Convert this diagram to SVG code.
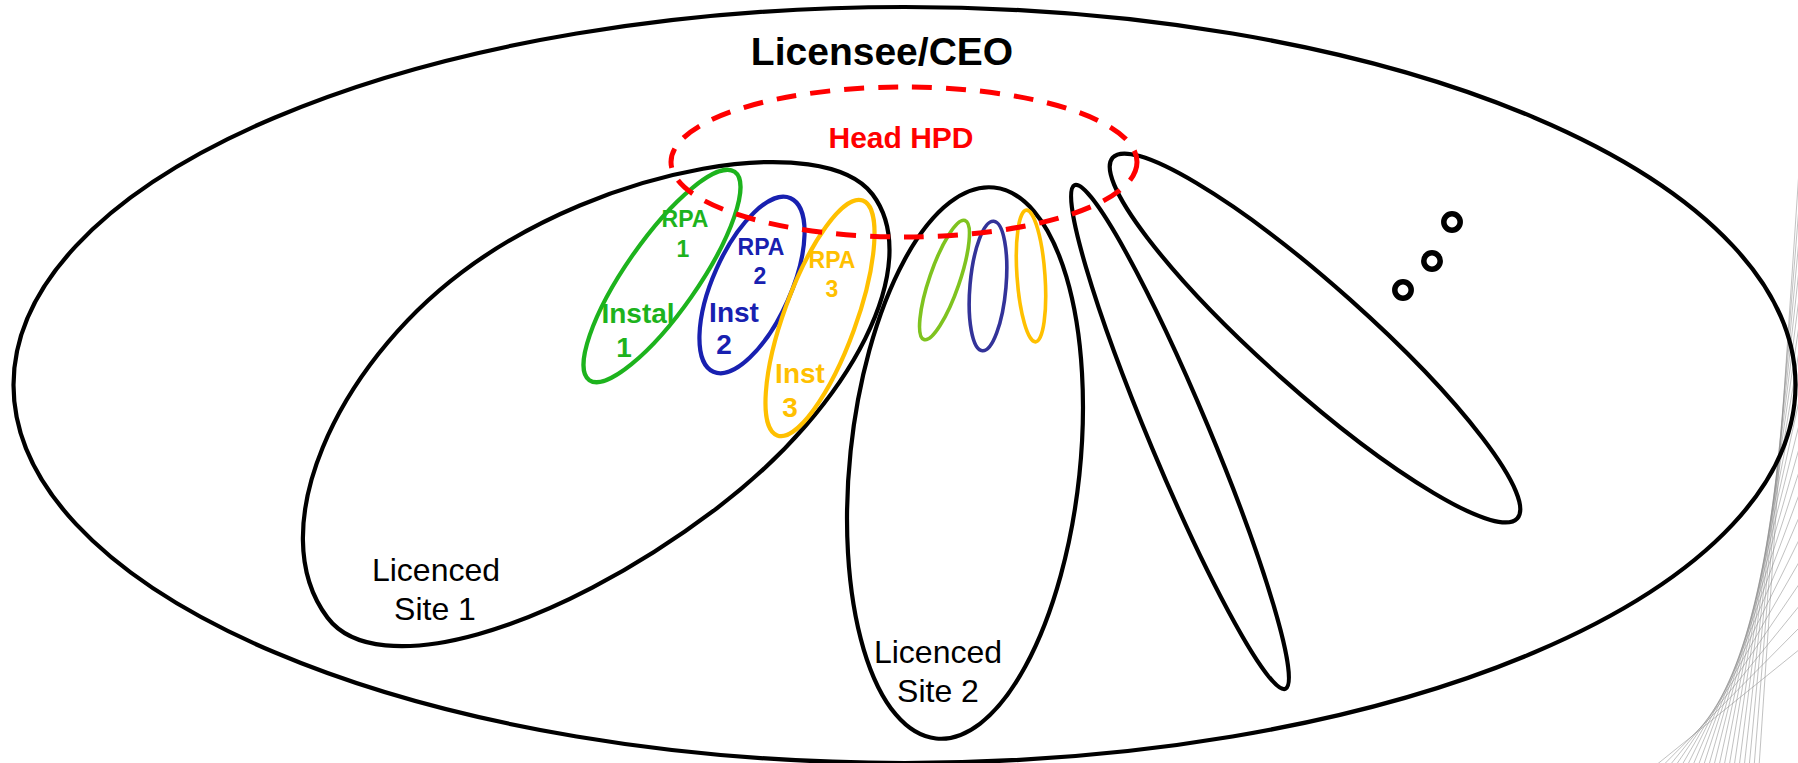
<svg xmlns="http://www.w3.org/2000/svg" width="1798" height="763" viewBox="0 0 1798 763">
<style>
.k{fill:none;stroke:#000;stroke-width:4.2}
.c{fill:none;stroke-width:4.2}
.s{fill:none;stroke-width:3.6}
.t{font-family:"Liberation Sans",Arial,Helvetica,sans-serif;text-anchor:middle}
.b{font-weight:bold}
.fan line{stroke:#8a8a8a;stroke-width:0.7;opacity:0.75}
</style>
<rect width="1798" height="763" fill="#fff"/>
<g class="fan">
<line x1="1650" y1="770" x2="1800" y2="649"/>
<line x1="1658.5" y1="770" x2="1800" y2="627"/>
<line x1="1666" y1="770" x2="1800" y2="605"/>
<line x1="1672.7" y1="770" x2="1800" y2="582.8"/>
<line x1="1679.1" y1="770" x2="1800" y2="560.4"/>
<line x1="1685.1" y1="770" x2="1800" y2="537.9"/>
<line x1="1690.9" y1="770" x2="1800" y2="515.1"/>
<line x1="1696.6" y1="770" x2="1800" y2="492.1"/>
<line x1="1702.1" y1="770" x2="1800" y2="468.8"/>
<line x1="1707.5" y1="770" x2="1800" y2="445.2"/>
<line x1="1712.8" y1="770" x2="1800" y2="421.1"/>
<line x1="1718.1" y1="770" x2="1800" y2="396.5"/>
<line x1="1723.3" y1="770" x2="1800" y2="371.4"/>
<line x1="1728.5" y1="770" x2="1800" y2="345.4"/>
<line x1="1733.6" y1="770" x2="1800" y2="318.6"/>
<line x1="1738.7" y1="770" x2="1800" y2="290.5"/>
<line x1="1743.8" y1="770" x2="1800" y2="260.9"/>
<line x1="1748.8" y1="770" x2="1800" y2="229.2"/>
<line x1="1753.8" y1="770" x2="1800" y2="194.5"/>
<line x1="1758.8" y1="770" x2="1800" y2="155.7"/>
</g>
<g id="licensee">
<ellipse class="k" cx="904.5" cy="385" rx="891" ry="378"/>
<text class="t b" x="882" y="65" font-size="39">Licensee/CEO</text>
</g>
<g id="site1">
<path class="k" transform="translate(597 402) rotate(-37)" d="M345 0C345 -80 150 -185 -30 -185C-187 -185 -345 -100 -345 10C-345 91 -176 157 30 157C203 157 345 86 345 0Z"/>
<text class="t" x="436" y="581" font-size="32">Licenced</text>
<text class="t" x="435" y="620" font-size="32">Site 1</text>
</g>
<g id="site2">
<ellipse class="k" cx="965" cy="463" rx="115" ry="277" transform="rotate(6 965 463)"/>
<text class="t" x="938" y="663" font-size="32">Licenced</text>
<text class="t" x="938" y="702" font-size="32">Site 2</text>
</g>
<g id="site3">
<ellipse class="k" cx="1180" cy="437" rx="30" ry="273" transform="rotate(-22.7 1180 437)"/>
</g>
<g id="site4">
<ellipse class="k" cx="1315" cy="338" rx="271" ry="52" transform="rotate(41.7 1315 338)"/>
</g>
<g id="more">
<circle cx="1452" cy="222" r="8.2" fill="none" stroke="#000" stroke-width="5.5"/>
<circle cx="1432" cy="261" r="8.2" fill="none" stroke="#000" stroke-width="5.5"/>
<circle cx="1403" cy="290" r="8.2" fill="none" stroke="#000" stroke-width="5.5"/>
</g>
<g id="inst1" fill="#1db31d">
<ellipse class="c" stroke="#1db31d" cx="662" cy="276" rx="36" ry="127" transform="rotate(34.9 662 276)"/>
<text class="t b" x="685" y="227" font-size="23">RPA</text>
<text class="t b" x="683" y="257" font-size="23">1</text>
<text class="t b" x="638" y="323" font-size="28">Instal</text>
<text class="t b" x="624" y="357" font-size="28">1</text>
</g>
<g id="inst2" fill="#1820b0">
<ellipse class="c" stroke="#1820b0" cx="752" cy="285" rx="39" ry="95" transform="rotate(24 752 285)"/>
<text class="t b" x="761" y="255" font-size="23">RPA</text>
<text class="t b" x="760" y="284" font-size="23">2</text>
<text class="t b" x="734" y="322" font-size="28">Inst</text>
<text class="t b" x="724" y="354" font-size="28">2</text>
</g>
<g id="inst3" fill="#ffc000">
<ellipse class="c" stroke="#ffc000" cx="820" cy="318" rx="36" ry="125" transform="rotate(20 820 318)"/>
<text class="t b" x="832" y="268" font-size="23">RPA</text>
<text class="t b" x="832" y="297" font-size="23">3</text>
<text class="t b" x="800" y="383" font-size="28">Inst</text>
<text class="t b" x="790" y="417" font-size="28">3</text>
</g>
<g id="site2-inst1">
<ellipse class="s" stroke="#7fc31f" cx="944.5" cy="280" rx="15" ry="63" transform="rotate(19 944.5 280)"/>
</g>
<g id="site2-inst2">
<ellipse class="s" stroke="#333399" cx="988" cy="286" rx="18" ry="65" transform="rotate(5 988 286)"/>
</g>
<g id="site2-inst3">
<ellipse class="s" stroke="#ffc000" cx="1031" cy="276" rx="14" ry="66" transform="rotate(-4 1031 276)"/>
</g>
<g id="headhpd">
<ellipse cx="904" cy="162" rx="233" ry="75" fill="none" stroke="#ff0000" stroke-width="5" stroke-dasharray="20 14"/>
<text class="t b" x="901" y="148" font-size="30" fill="#ff0000">Head HPD</text>
</g>
</svg>
